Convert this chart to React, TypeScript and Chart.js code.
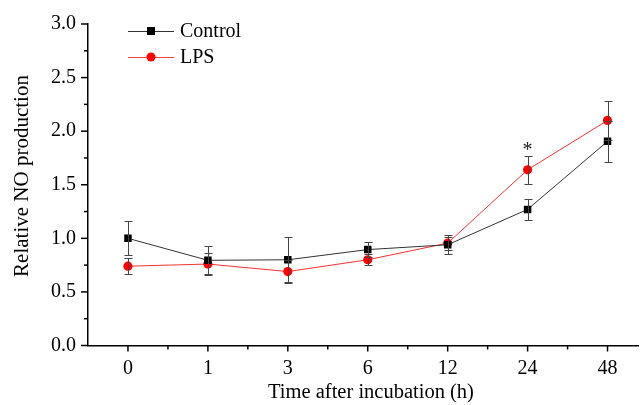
import React, { useEffect, useRef } from "react";
import { Chart, registerables } from "chart.js";

Chart.register(...registerables);

const categories = ["0", "1", "3", "6", "12", "24", "48"];
const controlMean = [1.0, 0.795, 0.8, 0.895, 0.94, 1.27, 1.905];
const controlErr = [0.16, 0.13, 0.21, 0.07, 0.09, 0.1, 0.19];
const lpsMean = [0.74, 0.76, 0.69, 0.8, 0.955, 1.64, 2.1];
const lpsErr = [0.075, 0.1, 0.11, 0.05, 0.06, 0.13, 0.18];
const lpsSignificance = ["", "", "", "", "", "*", ""];
const seriesNames = ["Control", "LPS"];
const yTitle = "Relative NO production";
const xTitle = "Time after incubation (h)";

const FONT = "'Liberation Serif', 'Times New Roman', serif";
const FS = 20;

const customPlugin = {
  id: "customDraw",
  afterDatasetsDraw(chart: any) {
    const ctx = chart.ctx;
    const xs = chart.scales.x;
    const ys = chart.scales.y;
    const sets = [
      { m: controlMean, e: controlErr },
      { m: lpsMean, e: lpsErr },
    ];
    ctx.save();
    ctx.strokeStyle = "#444";
    ctx.lineWidth = 1;
    sets.forEach((s) => {
      s.m.forEach((v, j) => {
        const x = Math.round(xs.getPixelForValue(j)) + 0.5;
        const yt = Math.round(ys.getPixelForValue(v + s.e[j])) + 0.5;
        const yb = Math.round(ys.getPixelForValue(v - s.e[j])) + 0.5;
        ctx.beginPath();
        ctx.moveTo(x, yt);
        ctx.lineTo(x, yb);
        ctx.moveTo(x - 4, yt);
        ctx.lineTo(x + 4, yt);
        ctx.moveTo(x - 4, yb);
        ctx.lineTo(x + 4, yb);
        ctx.stroke();
      });
    });
    ctx.fillStyle = "#222";
    ctx.font = `${FS}px ${FONT}`;
    ctx.textAlign = "center";
    ctx.textBaseline = "middle";
    lpsSignificance.forEach((s, j) => {
      if (!s) return;
      const x = xs.getPixelForValue(j);
      const y = ys.getPixelForValue(lpsMean[j] + lpsErr[j]) - 5;
      ctx.fillText(s, x, y);
    });
    ctx.restore();
  },
  afterDraw(chart: any) {
    const ctx = chart.ctx;
    const xs = chart.scales.x;
    const ys = chart.scales.y;
    const area = chart.chartArea;
    ctx.save();
    ctx.strokeStyle = "#000";
    ctx.lineWidth = 1.5;
    for (let v = -0.5; v <= xs.max + 1e-6; v += 0.5) {
      const x = xs.getPixelForValue(v);
      const major = Math.abs(v - Math.round(v)) < 1e-6;
      if (x <= area.left + 1) continue;
      ctx.beginPath();
      ctx.moveTo(x, area.bottom);
      ctx.lineTo(x, area.bottom + (major ? 6 : 4));
      ctx.stroke();
    }
    for (let v = 0; v <= 3 + 1e-6; v += 0.25) {
      const y = ys.getPixelForValue(v);
      const major = Math.abs(v * 2 - Math.round(v * 2)) < 1e-6;
      ctx.beginPath();
      ctx.moveTo(area.left, y);
      ctx.lineTo(area.left - (major ? 7 : 4), y);
      ctx.stroke();
    }
    // axis titles
    ctx.fillStyle = "#000";
    ctx.textAlign = "center";
    ctx.textBaseline = "middle";
    ctx.font = `20.5px ${FONT}`;
    ctx.fillText(xTitle, 371, 393);
    ctx.save();
    ctx.translate(22, 176);
    ctx.rotate(-Math.PI / 2);
    ctx.font = `21px ${FONT}`;
    ctx.fillText(yTitle, 0, 0);
    ctx.restore();

    const legendItems = [
      { name: seriesNames[0], color: "#000", line: "#333", style: "rect", r: 5 },
      { name: seriesNames[1], color: "#ff0000", line: "#ff4040", style: "circle", r: 4.5 },
    ];
    ctx.font = `${FS}px ${FONT}`;
    ctx.textAlign = "left";
    ctx.textBaseline = "middle";
    legendItems.forEach((it, i) => {
      const y = 31 + i * 26;
      ctx.strokeStyle = it.line;
      ctx.lineWidth = 1;
      ctx.beginPath();
      ctx.moveTo(128, y + 0.5);
      ctx.lineTo(174, y + 0.5);
      ctx.stroke();
      ctx.fillStyle = it.color;
      if (it.style === "rect") {
        ctx.fillRect(151 - 4, y - 4, 8, 8);
      } else {
        ctx.beginPath();
        ctx.arc(151, y, it.r, 0, Math.PI * 2);
        ctx.fill();
      }
      ctx.fillStyle = "#000";
      ctx.fillText(it.name, 180, y + 1);
    });
    ctx.restore();
  },
};

export default function App() {
  const ref = useRef<HTMLCanvasElement | null>(null);
  useEffect(() => {
    if (!ref.current) return;
    const chart = new Chart(ref.current, {
      type: "line",
      data: {
        datasets: [
          {
            label: seriesNames[0],
            data: controlMean.map((v, i) => ({ x: i, y: v })),
            borderColor: "#333",
            borderWidth: 1,
            backgroundColor: "#000",
            pointBackgroundColor: "#000",
            pointBorderColor: "#000",
            pointStyle: "rect",
            pointRadius: 5.3,
            pointBorderWidth: 0,
          },
          {
            label: seriesNames[1],
            data: lpsMean.map((v, i) => ({ x: i, y: v })),
            borderColor: "#ff3030",
            borderWidth: 1,
            backgroundColor: "#ff0000",
            pointBackgroundColor: "#ff0000",
            pointBorderColor: "#ff0000",
            pointStyle: "circle",
            pointRadius: 4.6,
            pointBorderWidth: 0,
          },
        ],
      },
      options: {
        responsive: false,
        animation: false,
        layout: { padding: { top: 20, right: 0, left: 0, bottom: 0 } },
        plugins: { legend: { display: false }, tooltip: { enabled: false } },
        scales: {
          x: {
            type: "linear",
            min: -0.5,
            max: 6.39,
            afterFit: (s: any) => {
              s.height = 59.5;
            },
            grid: { display: false, drawTicks: false },
            border: { display: true, color: "#000", width: 1.5 },
            ticks: {
              stepSize: 1,
              includeBounds: false,
              autoSkip: false,
              maxRotation: 0,
              padding: 11,
              color: "#000",
              font: { family: FONT, size: FS },
              callback: (v: any) => {
                const n = Number(v);
                return Number.isInteger(n) && categories[n] !== undefined ? categories[n] : "";
              },
            },
            title: { display: false, text: xTitle },
          },
          y: {
            type: "linear",
            min: 0,
            max: 3,
            afterFit: (s: any) => {
              s.width = 88;
            },
            grid: { display: false, drawTicks: false },
            border: { display: true, color: "#000", width: 1.5 },
            ticks: {
              stepSize: 0.5,
              padding: 12,
              color: "#000",
              font: { family: FONT, size: FS },
              callback: (v: any) => Number(v).toFixed(1),
            },
            title: { display: false, text: yTitle },
          },
        },
      },
      plugins: [customPlugin],
    });
    return () => chart.destroy();
  }, []);
  return (
    <div style={{ position: "absolute", left: 0, top: 0, width: 644, height: 405, background: "#fff" }}>
      <canvas ref={ref} width={644} height={405} />
    </div>
  );
}
